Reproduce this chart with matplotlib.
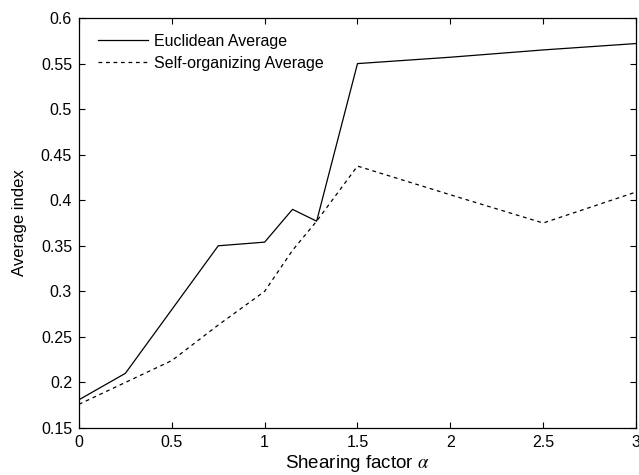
import matplotlib.pyplot as plt

plt.rcParams['font.family'] = ['Liberation Sans', 'DejaVu Sans']
plt.rcParams['mathtext.fontset'] = 'stix'

alpha = [0, 0.25, 0.5, 0.75, 1.0, 1.15, 1.28, 1.5, 2.0, 2.5, 3.0]
euclidean_avg = [0.181, 0.21, 0.28, 0.35, 0.354, 0.39, 0.377, 0.55, 0.557, 0.565, 0.572]
selforg_avg = [0.176, 0.20, 0.224, 0.263, 0.30, 0.345, 0.377, 0.4375, 0.406, 0.375, 0.409]

xticks = [0, 0.5, 1, 1.5, 2, 2.5, 3]
xticklabels = ['0', '0.5', '1', '1.5', '2', '2.5', '3']
yticks = [0.15, 0.2, 0.25, 0.3, 0.35, 0.4, 0.45, 0.5, 0.55, 0.6]
yticklabels = ['0.15', '0.2', '0.25', '0.3', '0.35', '0.4', '0.45', '0.5', '0.55', '0.6']

fig = plt.figure(figsize=(6.39, 4.75), dpi=100)
ax = fig.add_axes([0.1236, 0.099, 0.8717, 0.863])

ax.plot(alpha, euclidean_avg, color='black', linewidth=0.9, linestyle='-', label='Euclidean Average')
ax.plot(alpha, selforg_avg, color='black', linewidth=0.9, linestyle=(0, (3, 3)), label='Self-organizing Average')

ax.set_xlim(0, 3)
ax.set_ylim(0.15, 0.6)
ax.set_xticks(xticks)
ax.set_xticklabels(xticklabels)
ax.set_yticks(yticks)
ax.set_yticklabels(yticklabels)
ax.tick_params(direction='in', top=True, right=True, length=4, width=0.8, labelsize=11.5)
ax.tick_params(axis='x', pad=5)
ax.tick_params(axis='y', pad=5)
for s in ax.spines.values():
    s.set_linewidth(0.9)

ax.set_xlabel(r'Shearing factor $\alpha$', fontsize=13.5, labelpad=2)
ax.set_ylabel('Average index', fontsize=12, labelpad=10)

ax.legend(loc='upper left', bbox_to_anchor=(0, 1.008), frameon=False, fontsize=11.5,
          handlelength=3.1, borderaxespad=0.8, labelspacing=0.42, handletextpad=0.4)

fig.savefig('out.png', dpi=100)
plt.close(fig)
